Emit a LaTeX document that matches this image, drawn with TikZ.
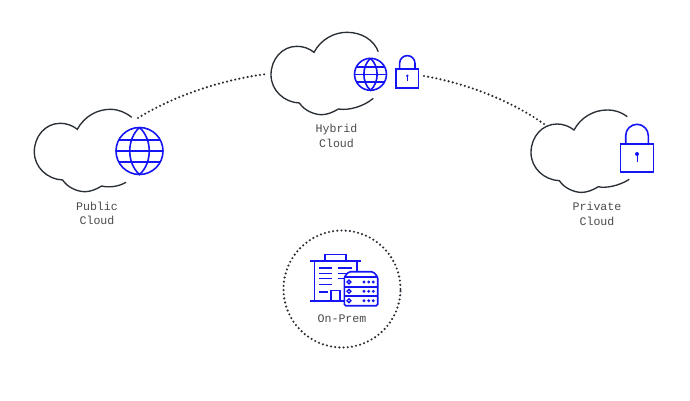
\documentclass[tikz,border=0pt]{standalone}
\usepackage{fontspec}
\setmonofont{Liberation Mono}
\definecolor{inkline}{HTML}{2A2F36}
\definecolor{iconblue}{HTML}{1414F5}
\definecolor{labelgray}{HTML}{4A4A4A}
\tikzset{
    label text/.style={font=\ttfamily\fontsize{11.6}{14.4}\selectfont, text=labelgray, align=center, inner sep=0pt},
    link/.style={line width=2.4, line cap=round, dash pattern=on 0pt off 4.2pt, inkline},
    icon/.style={iconblue, line width=1.6},
    pics/cloud/.style 2 args={
        code={
            \draw[inkline, line width=1.35] #1 (33,-20)
                .. controls (20,-20) and (7,-13) .. (0,0)
                .. controls (-5,-4) and (-11,-6) .. (-17,-6)
                .. controls (-32,-6) and (-43,7) .. (-43,22.5)
                .. controls (-43,38) and (-30,50) .. (-14.6,50.7)
                .. controls (-10,58) and (0,62.4) .. (7.7,62.4)
                .. controls (13,62.4) and (19,60) .. (24.4,56.7) #2;
        }
    },
    pics/globe/.style={
        code={
            \draw[icon, pic actions] (0,0) circle[radius=23.5];
            \draw[icon, pic actions] (0,-23.5) .. controls (-13,-12) and (-13,12) .. (0,23.5)
                .. controls (13,12) and (13,-12) .. (0,-23.5);
            \draw[icon, pic actions] (-23.5,0) -- (23.5,0);
            \draw[icon, pic actions] (-20.7,-11) -- (20.7,-11);
            \draw[icon, pic actions] (-20.7,11) -- (20.7,11);
        }
    },
    pics/padlock/.style={
        code={
            \draw[icon, pic actions] (-16.5,0) rectangle (16.5,28);
            \draw[icon, pic actions] (-11.3,0) -- (-11.3,-8.4)
                .. controls (-11.3,-14.6) and (-6.2,-19.7) .. (0,-19.7)
                .. controls (6.2,-19.7) and (11.3,-14.6) .. (11.3,-8.4) -- (11.3,0);
            \fill[iconblue] (0,10) circle[radius=2];
            \draw[iconblue, line width=1, pic actions] (0,10) -- (0,17.7);
        }
    }
}
\begin{document}
\begin{tikzpicture}[x=1pt, y=-1pt]
    \useasboundingbox (0,0) rectangle (690,400);

    % Clouds
    \pic at (77.3,129.3) {cloud={(54.4,-12) .. controls (48,-17) and (41,-20) ..}{.. controls (31,58.5) and (41,57.5) .. (48.7,53)}};
    \pic at (314,52.3) {cloud={(64.3,-0.6) .. controls (60,-12) and (48,-20) ..}{.. controls (35,58.5) and (50,54) .. (59.3,46)}};
    \pic at (574,130) {cloud={(53.3,-13.3) .. controls (47,-18) and (41,-20) ..}{.. controls (31,58.5) and (45,56) .. (55.3,49.3)}};

    % Icons
    \pic at (139.5,151) {globe};
    \pic[scale=0.68] at (370.5,74.3) {globe};
    \pic at (637,144) {padlock};
    \pic[scale=0.68] at (407.3,69) {padlock};

    % Labels
    \node[label text] (public) at (97,213.5) {Public\\Cloud};
    \node[label text] (hybrid) at (336.5,136) {Hybrid\\Cloud};
    \node[label text] (private) at (597,214) {Private\\Cloud};
    \node[label text] (onpremlabel) at (342,319) {On-Prem};

    % Dotted links
    \coordinate (publicend) at (138,118);
    \coordinate (hybridleft) at (267,74);
    \coordinate (hybridright) at (424,76);
    \coordinate (privateend) at (544,124);
    \draw[link] (publicend) .. controls (175,95) and (225,79) .. (hybridleft);
    \draw[link] (hybridright) .. controls (465,83) and (510,100) .. (privateend);
    \node[circle, draw, link, minimum size=117, inner sep=0pt] (onprem) at (342,289) {};

    % Building
    \draw[icon] (325,261) -- (325,254.3) -- (345.7,254.3) -- (345.7,261);
    \draw[icon] (310,261) -- (360.7,261);
    \draw[icon] (314.3,261) -- (314.3,301);
    \draw[icon] (356.7,261) -- (356.7,274);
    \draw[icon] (310,301) -- (345,301);
    \draw[icon] (330.7,301) -- (330.7,290.3) -- (340,290.3) -- (340,301);
    \foreach \winy in {267.7,273.3,278.3,284.3}
        \draw[icon] (319.3,\winy) -- (332.3,\winy);
    \foreach \winy in {267.7,273.3,278.3}
        \draw[icon] (338.3,\winy) -- (351.7,\winy);
    \draw[icon] (319.3,292) -- (327.7,292);

    % Server
    \draw[icon, fill=white, rounded corners=1.5] (349,271.7) -- (373,271.7) -- (377.7,276.7)
        -- (377.7,305.7) -- (344.3,305.7) -- (344.3,276.7) -- cycle;
    \draw[icon] (344.3,276.7) -- (377.7,276.7);
    \draw[icon] (344.3,287) -- (377.7,287);
    \draw[icon] (344.3,296) -- (377.7,296);
    \foreach \rowy in {282,291.3,300.7} {
        \draw[iconblue, line width=1.3] (349,\rowy) circle[radius=1.9];
        \foreach \dotx in {364,368.7,373.3}
            \fill[iconblue] (\dotx,\rowy) circle[radius=1.6];
    }
\end{tikzpicture}
\end{document}
